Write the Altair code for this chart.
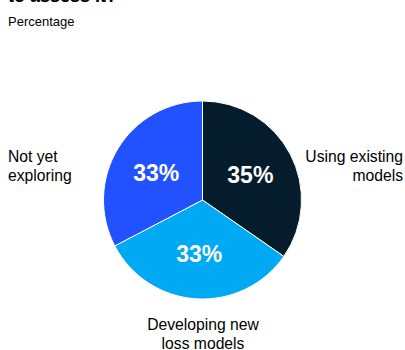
import altair as alt
import pandas as pd

categories = ["Using existing models", "Developing new loss models", "Not yet exploring"]
display_labels = ["Using existing\nmodels", "Developing new\nloss models", "Not yet\nexploring"]
values = [35, 33, 33]
order_idx = [1, 2, 3]
colors = ["#051C2C", "#00A9F4", "#2251FF"]

df = pd.DataFrame({
    "category": categories,
    "label": display_labels,
    "value": values,
    "order": order_idx,
})
df["pct"] = df["value"].astype(str) + "%"

FONT = "Liberation Sans"

base = alt.Chart(df).encode(
    theta=alt.Theta("value:Q", stack=True),
    order=alt.Order("order:Q"),
)

arcs = base.mark_arc(outerRadius=99, stroke="white", strokeWidth=1).encode(
    color=alt.Color("category:N", scale=alt.Scale(domain=categories, range=colors), legend=None)
)

inner = base.mark_text(radius=54, dy=1.5, font=FONT, fontSize=23, fontWeight="bold", color="white").encode(
    text="pct:N"
)

lbl_style = dict(baseline="top", font=FONT, fontSize=15.7, lineHeight=19, lineBreak="\n", color="#000000")

right_lbl = alt.Chart(df).transform_filter(alt.datum.category == categories[0]).mark_text(
    align="right", **lbl_style
).encode(x=alt.value(403), y=alt.value(100), text="label:N")

bottom_lbl = alt.Chart(df).transform_filter(alt.datum.category == categories[1]).mark_text(
    align="center", **lbl_style
).encode(x=alt.value(203), y=alt.value(267.5), text="label:N")

left_lbl = alt.Chart(df).transform_filter(alt.datum.category == categories[2]).mark_text(
    align="left", **lbl_style
).encode(x=alt.value(8), y=alt.value(100), text="label:N")

chart = alt.layer(arcs, inner, right_lbl, bottom_lbl, left_lbl).properties(
    width=405,
    height=300,
    autosize=alt.AutoSizeParams(type="none"),
    padding={"top": 50, "left": 0, "right": 0, "bottom": 0},
    title=alt.TitleParams(
        text="to assess it?",
        subtitle="Percentage",
        anchor="start",
        frame="group",
        dx=8,
        offset=21,
        font=FONT,
        fontSize=18,
        fontWeight="bold",
        color="#000000",
        subtitleFont=FONT,
        subtitleFontSize=13,
        subtitleColor="#000000",
        subtitlePadding=10,
    ),
).configure_view(stroke=None)

chart.save("out.html", embed_options={"renderer": "svg", "actions": False})
